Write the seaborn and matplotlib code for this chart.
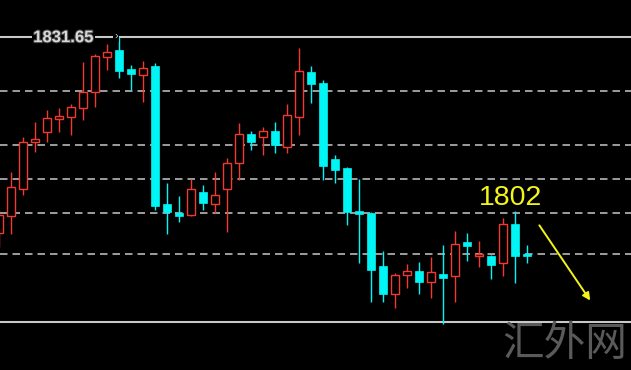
import matplotlib
matplotlib.use("Agg")
import matplotlib.pyplot as plt
import matplotlib.patheffects as pe
import seaborn as sns
import numpy as np
import pandas as pd

# ---- data (prices) ----
opens  = [1799.0, 1801.8, 1806.3, 1814.2, 1815.8, 1818.0, 1818.3, 1819.8, 1822.5, 1828.3,
          1829.5, 1826.3, 1825.3, 1826.8, 1803.8, 1802.3, 1802.0, 1805.8, 1803.8, 1806.3,
          1810.7, 1815.5, 1815.0, 1816.0, 1813.3, 1818.3, 1825.8, 1824.0, 1811.3, 1809.8,
          1802.7, 1802.3, 1793.5, 1788.8, 1792.0, 1792.7, 1790.8, 1792.2, 1791.8, 1797.5,
          1795.2, 1795.2, 1794.0, 1800.5, 1795.3]
highs  = [1802.8, 1809.2, 1815.0, 1817.5, 1819.5, 1819.8, 1820.5, 1827.5, 1828.8, 1830.5,
          1831.65, 1827.0, 1827.7, 1827.3, 1807.3, 1805.2, 1808.0, 1807.0, 1809.2, 1811.5,
          1817.3, 1816.0, 1816.7, 1817.5, 1820.5, 1829.8, 1826.8, 1824.5, 1812.0, 1810.0,
          1808.0, 1802.5, 1796.0, 1792.3, 1793.8, 1794.2, 1795.0, 1797.0, 1799.3, 1799.0,
          1797.7, 1795.3, 1801.5, 1802.6, 1797.0]
lows   = [1796.7, 1798.8, 1805.3, 1812.5, 1814.2, 1815.8, 1815.3, 1817.8, 1820.0, 1826.2,
          1824.8, 1822.8, 1820.8, 1802.8, 1798.8, 1800.8, 1801.8, 1802.8, 1802.3, 1799.2,
          1807.8, 1812.8, 1812.0, 1812.3, 1812.3, 1815.3, 1820.7, 1807.8, 1807.3, 1800.3,
          1794.0, 1787.5, 1787.5, 1786.5, 1789.8, 1788.8, 1788.2, 1783.8, 1787.5, 1794.3,
          1793.3, 1791.3, 1791.8, 1790.7, 1794.0]
closes = [1802.0, 1806.7, 1814.2, 1814.7, 1818.2, 1818.5, 1820.0, 1822.5, 1828.5, 1829.2,
          1826.0, 1825.5, 1826.5, 1803.5, 1802.5, 1801.8, 1806.3, 1804.0, 1805.3, 1810.7,
          1815.5, 1814.2, 1816.0, 1813.7, 1818.7, 1826.0, 1823.8, 1810.2, 1809.5, 1802.5,
          1802.2, 1792.8, 1788.8, 1792.0, 1792.7, 1790.8, 1792.5, 1791.5, 1797.2, 1796.8,
          1795.3, 1793.7, 1800.5, 1795.2, 1795.2]
level_lines = [1822.65, 1813.65, 1807.98, 1802.32, 1795.48]
high_price = 1831.65
low_price = 1784.15
high_label = "1831.65"
note_label = "1802"
watermark = "汇外网"

df = pd.DataFrame({"open": opens, "high": highs, "low": lows, "close": closes})
df["i"] = np.arange(len(df))
df["up"] = df["close"] >= df["open"]

sns.set_theme(style="dark")
plt.rcParams["font.family"] = ["Liberation Sans", "Noto Sans CJK SC", "DejaVu Sans"]

fig = plt.figure(figsize=(6.31, 3.70), dpi=100, facecolor="black")
ax = fig.add_axes([0, 0, 1, 1])
ax.set_facecolor("black")
ax.set_axis_off()

RED = "#f03a30"
CYAN = "#00f5f5"
W = 0.66

# level lines
for lv in level_lines:
    ax.axhline(lv, color="#b8b8b8", lw=1.2, ls=(0, (4.5, 3)), zorder=1)
ax.axhline(high_price, color="#c8c8c8", lw=1.5, zorder=1)
ax.axhline(low_price, color="#c8c8c8", lw=1.5, zorder=1)

for _, r in df.iterrows():
    top = max(r.open, r.close)
    bot = min(r.open, r.close)
    hgt = max(top - bot, 0.25)
    if r.up:
        ax.vlines(r.i, top, r.high, color=RED, lw=1.0, zorder=3)
        ax.vlines(r.i, r.low, bot, color=RED, lw=1.0, zorder=3)
        ax.bar(r.i, hgt, bottom=bot, width=W, facecolor="black",
               edgecolor=RED, linewidth=1.0, zorder=3)
    else:
        ax.vlines(r.i, r.low, r.high, color=CYAN, lw=1.0, zorder=3)
        ax.bar(r.i, hgt, bottom=bot, width=W, facecolor=CYAN,
               edgecolor=CYAN, linewidth=0.5, zorder=3)

ax.set_xlim(1 / 12, 632 / 12)
ax.set_ylim(1837.82 - 370 / 6, 1837.82)

# high price label
ax.text(2.85, high_price - 0.1, high_label, color="#d8d8d8", fontsize=12, fontweight="bold",
        ha="left", va="center", zorder=5,
        bbox=dict(facecolor="black", edgecolor="none", pad=1.0),
        path_effects=[pe.withStroke(linewidth=1.5, foreground="#404040")])
ax.text(9.75, high_price + 0.15, "›", color="#d0d0d0", fontsize=8, ha="center",
        va="center", zorder=5, bbox=dict(facecolor="black", edgecolor="none", pad=0.5))

# 1802 annotation
ax.text(40.0, 1802.7, note_label, color="#f4f41c", fontsize=20.5,
        ha="left", va="bottom", zorder=6)
ax.annotate("", xy=(49.4, 1787.35), xytext=(44.9, 1800.65),
            arrowprops=dict(arrowstyle="-|>", color="#f4f41c", lw=1.4,
                            mutation_scale=11), zorder=6)

# watermark
ax.text(41.9, 1777.0, watermark, color="#5a5a5a", fontsize=30,
        fontfamily=["Noto Sans CJK SC", "DejaVu Sans"], ha="left", va="bottom", zorder=6)

fig.savefig("out.png", dpi=100, facecolor="black")
